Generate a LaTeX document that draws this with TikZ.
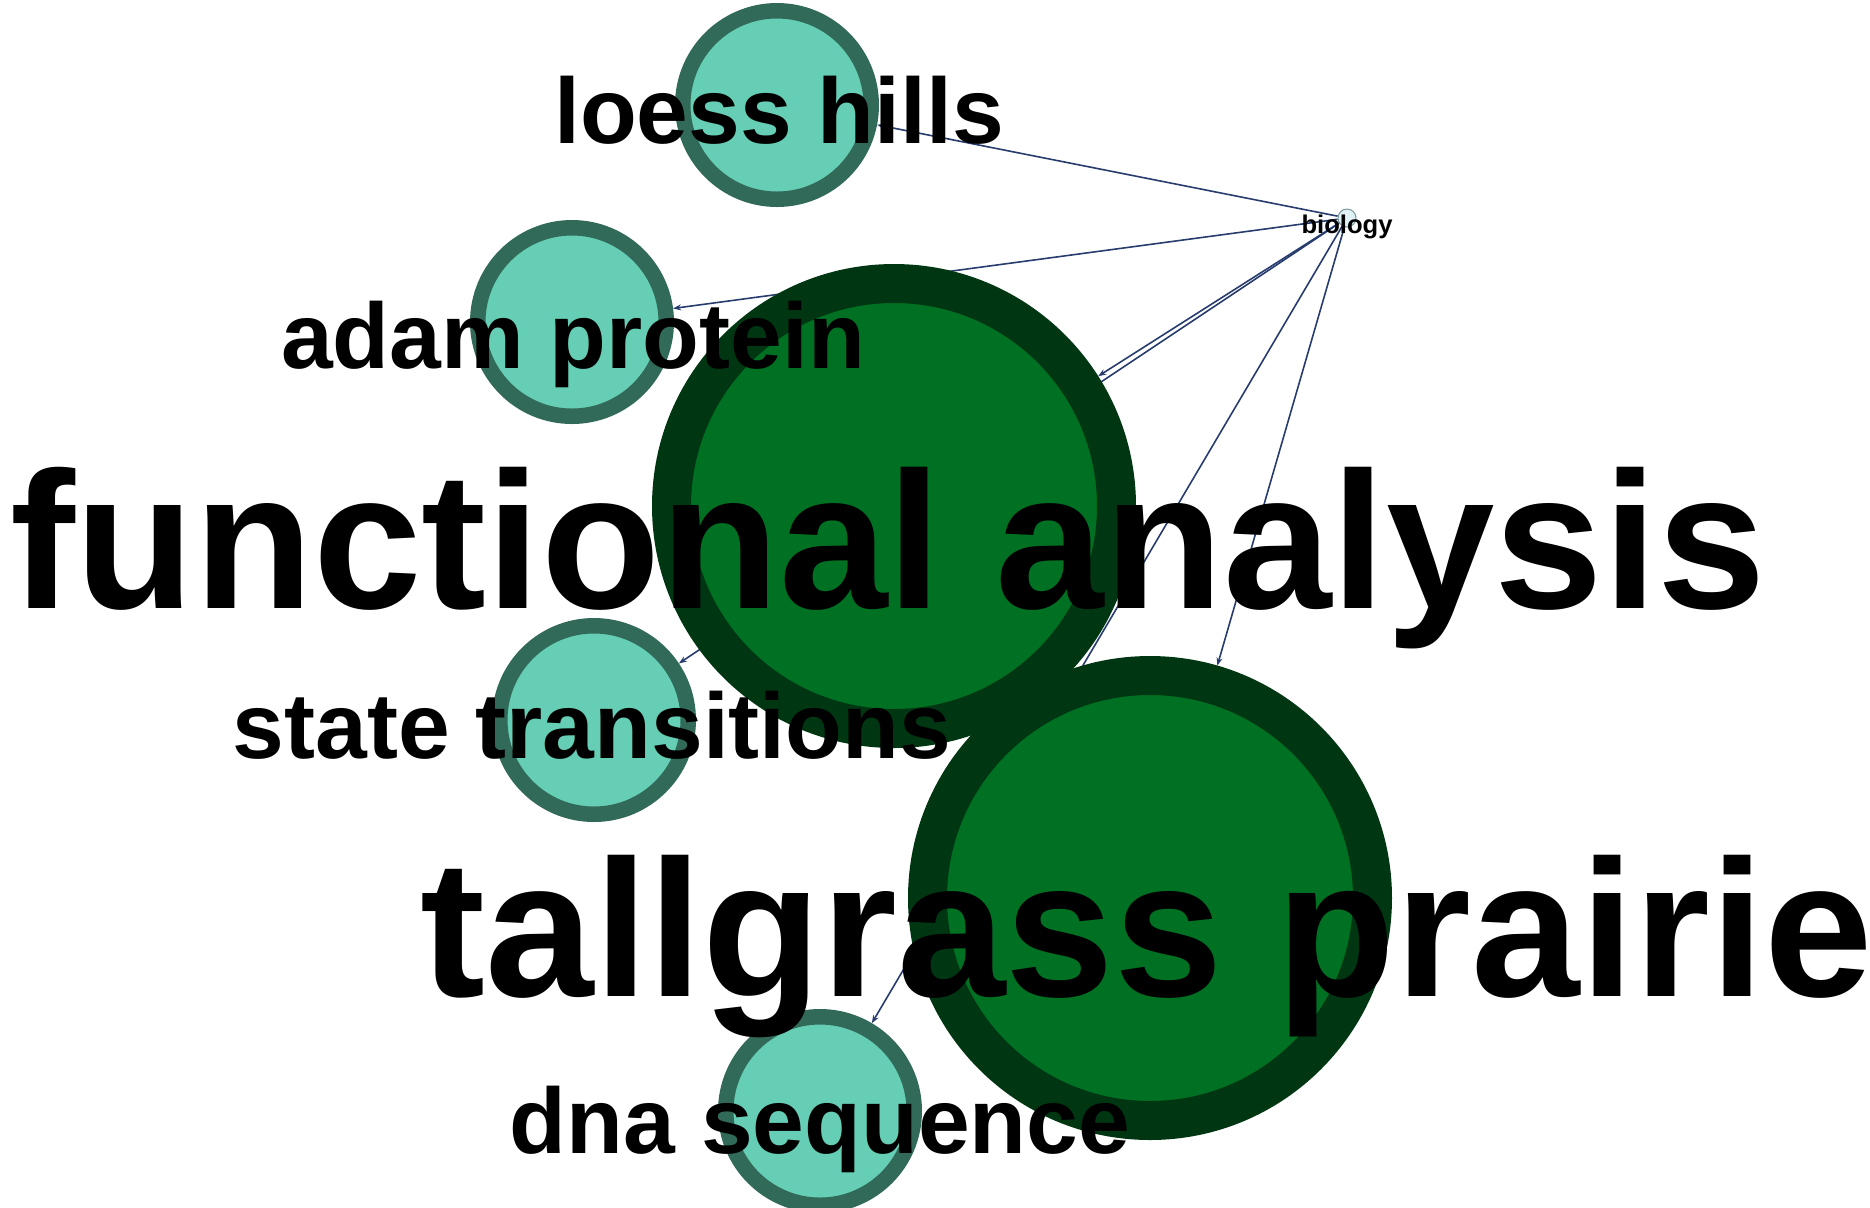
\documentclass[tikz,border=0pt]{standalone}
\usepackage{fontspec}
\setmainfont{Liberation Sans}
\usetikzlibrary{arrows.meta}
\pgfdeclarelayer{background}
\pgfdeclarelayer{front}
\pgfsetlayers{background,main,front}

\definecolor{smallfill}{RGB}{102,206,180}
\definecolor{smallborder}{RGB}{50,106,89}
\definecolor{bigfill}{RGB}{0,112,34}
\definecolor{bigborder}{RGB}{0,54,18}
\definecolor{edgecol}{RGB}{40,60,110}
\definecolor{biofill}{RGB}{225,242,246}
\definecolor{bioborder}{RGB}{120,150,150}

\tikzset{
  smallnode/.style={circle, inner sep=0pt, minimum size=94.25pt, line width=7.75pt,
    draw=smallborder, fill=smallfill},
  bignode/.style={circle, inner sep=0pt, minimum size=222.5pt, line width=19.5pt,
    draw=bigborder, fill=bigfill},
  hubnode/.style={circle, inner sep=0pt, minimum size=9pt, line width=0.5pt,
    draw=bioborder, fill=biofill},
  biglabel/.style={anchor=base, inner sep=0pt, font=\fontsize{97.5pt}{100pt}\selectfont\bfseries},
  smalllabel/.style={anchor=base, inner sep=0pt, font=\fontsize{46.5pt}{48pt}\selectfont\bfseries},
  hublabel/.style={anchor=base, inner sep=0pt, font=\fontsize{12.8pt}{14pt}\selectfont\bfseries},
  link/.style={draw=edgecol, line width=0.8pt, -{Stealth[length=4pt,width=3pt]}},
}

\begin{document}
\begin{tikzpicture}[x=0.5pt, y=-0.5pt]
\useasboundingbox (0,0) rectangle (1870,1207);
\clip (0,0) rectangle (1870,1207);

% keyword nodes
\node[smallnode] (loess) at (777,105) {};
\node[smallnode] (adam)  at (572,322) {};
\node[bignode]   (fa)    at (894,506) {};
\node[smallnode] (st)    at (594,720) {};
\node[bignode]   (tp)    at (1150,898) {};
\node[smallnode] (dna)   at (820,1111) {};
\node[hubnode]   (bio)   at (1347,218) {};

% links from the hub, beneath the circles
\begin{pgfonlayer}{background}
  \foreach \t in {loess, adam, fa, st, tp, dna}
    \path[link] (bio) -- (\t);
\end{pgfonlayer}

% labels on top of everything
\begin{pgfonlayer}{front}
  \node[smalllabel] (loesslbl) at (779,143)  {loess hills};
  \node[smalllabel] (adamlbl)  at (573,368)  {adam protein};
  \node[biglabel]   (falbl)    at (888,608)  {functional analysis};
  \node[smalllabel] (stlbl)    at (592,758)  {state transitions};
  \node[biglabel]   (tplbl)    at (1147,996) {tallgrass prairie};
  \node[smalllabel] (dnalbl)   at (820,1153) {dna sequence};
  \node[hublabel]   (biolbl)   at (1347,233) {biology};
\end{pgfonlayer}
\end{tikzpicture}
\end{document}
